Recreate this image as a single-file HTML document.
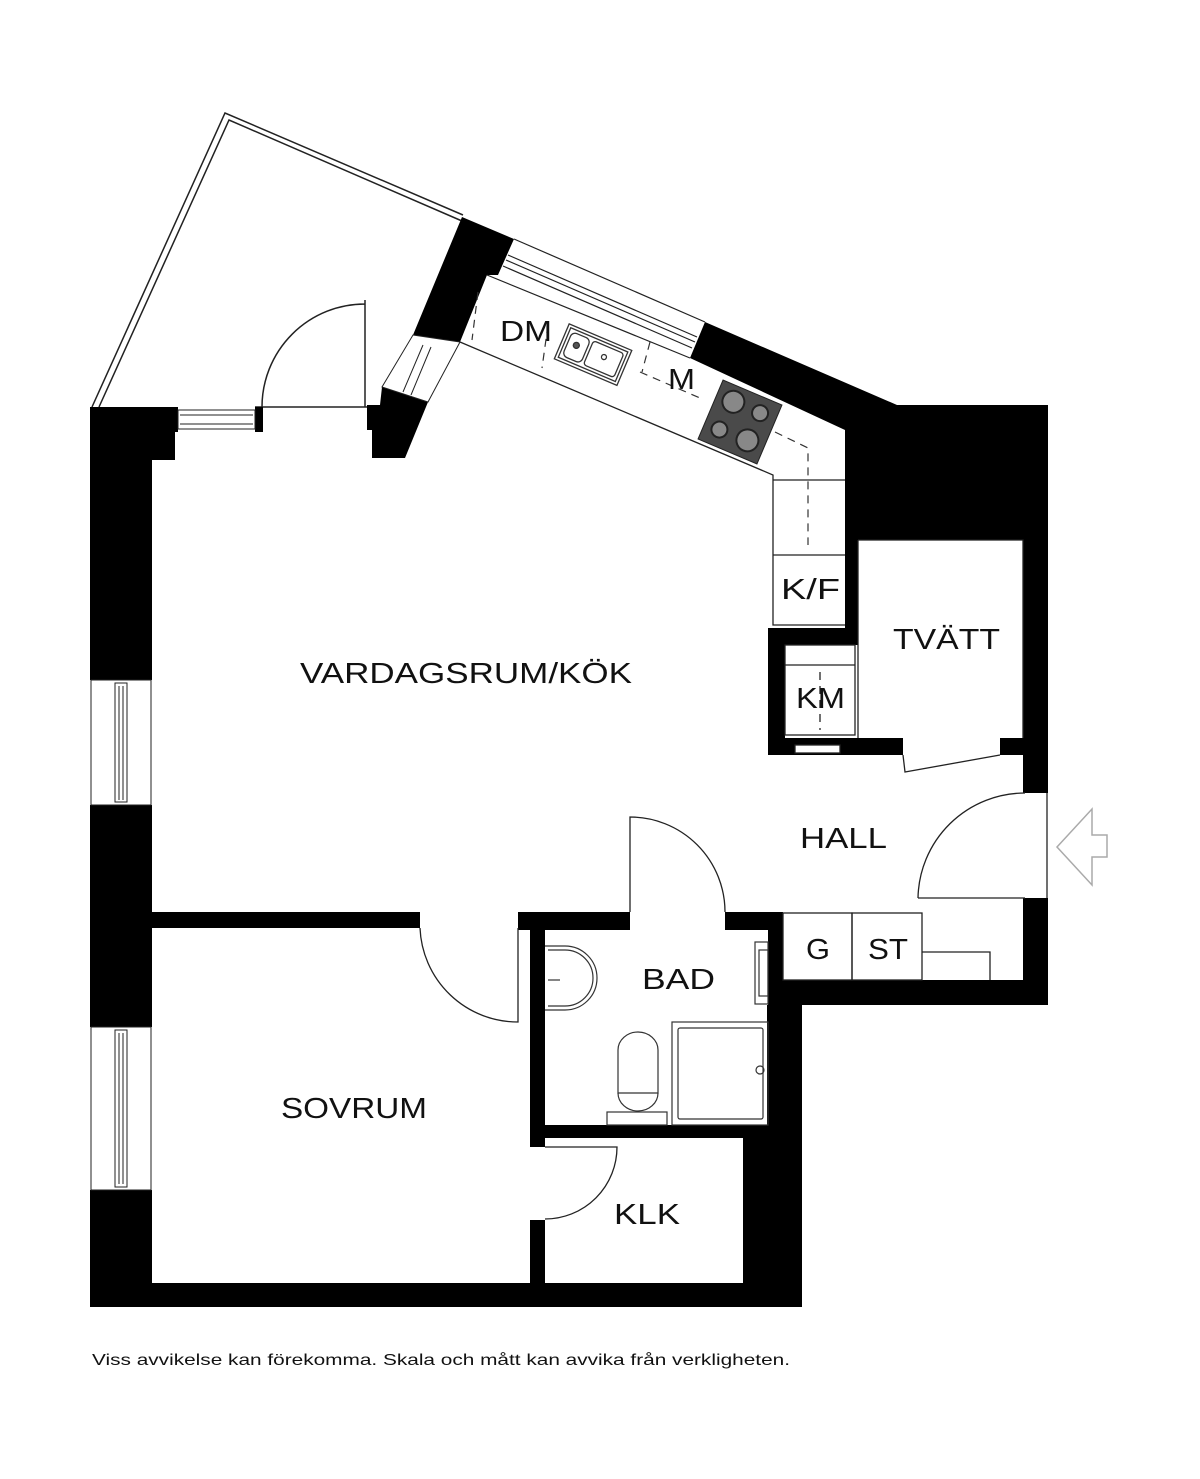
<!DOCTYPE html>
<html><head><meta charset="utf-8"><style>
html,body{margin:0;padding:0;background:#fff;}
svg{display:block;}
text{font-family:"Liberation Sans",sans-serif;fill:#111;}
</style></head><body>
<svg width="1200" height="1479" viewBox="0 0 1200 1479" xmlns="http://www.w3.org/2000/svg">
<g fill="none" stroke="#222" stroke-width="1.5">
<polyline points="92,407 225,113 463,215"/>
<polyline points="99,407 229,120 462,221"/>
</g>
<path d="M365,300 L365,407 M262,407 A103,103 0 0 1 365,304" fill="none" stroke="#222" stroke-width="1.5"/>
<line x1="255" y1="407" x2="372" y2="407" stroke="#222" stroke-width="1.5"/>

<g fill="#000">
<rect x="90" y="407" width="62" height="273"/>
<rect x="90" y="805" width="62" height="222"/>
<rect x="90" y="1190" width="62" height="117"/>
<rect x="90" y="407" width="88" height="25"/>
<rect x="152" y="432" width="23" height="28"/>
<rect x="255" y="407" width="8" height="25"/>
<polygon points="382,387 428,402 405,458 372,458 372,430 367,430 367,405 380,405"/>
<polygon points="462,217 514,239 498,275 487,275 460,342 413,335"/>
<polygon points="705,322 897,405 1048,405 1048,540 858,540 858,628 845,628 845,430 690,358"/>
<rect x="1023" y="540" width="25" height="253"/>
<rect x="1023" y="898" width="25" height="107"/>
<rect x="783" y="980" width="265" height="25"/>
<rect x="768" y="628" width="90" height="17"/>
<rect x="768" y="628" width="17" height="127"/>
<rect x="768" y="738" width="135" height="17"/>
<rect x="1000" y="738" width="25" height="17"/>
<rect x="152" y="912" width="268" height="16"/>
<rect x="518" y="912" width="112" height="18"/>
<rect x="725" y="912" width="58" height="18"/>
<rect x="530" y="912" width="15" height="235"/>
<rect x="530" y="1220" width="15" height="70"/>
<rect x="768" y="912" width="15" height="93"/>
<rect x="767" y="1005" width="35" height="302"/>
<rect x="530" y="1125" width="240" height="13"/>
<rect x="743" y="1125" width="59" height="182"/>
<rect x="90" y="1283" width="712" height="24"/>
</g>
<g fill="#fff" stroke="#222" stroke-width="1">
<rect x="178" y="410" width="77" height="19" fill="none"/>
<line x1="180" y1="415" x2="253" y2="415"/>
<line x1="180" y1="424" x2="253" y2="424"/>
</g>
<g fill="none" stroke="#222" stroke-width="1">
<polygon points="413,335 460,342 428,402 382,387"/>
<line x1="423" y1="345" x2="403" y2="392"/>
<line x1="431" y1="347" x2="411" y2="395"/>
</g>
<g fill="none" stroke="#222" stroke-width="1.2">
<line x1="514" y1="239" x2="705" y2="322"/>
<line x1="508" y1="255" x2="697" y2="337"/>
<line x1="506" y1="260" x2="695" y2="342"/>
<line x1="503" y1="266" x2="692" y2="348"/>
<line x1="487" y1="275" x2="690" y2="358"/>
</g>
<g fill="none" stroke="#222" stroke-width="1.3">
<polyline points="460,342 773,475 773,625 845,625"/>
<line x1="773" y1="480" x2="845" y2="480"/>
<line x1="773" y1="555" x2="845" y2="555"/>
</g>
<g fill="none" stroke="#333" stroke-width="1.2" stroke-dasharray="8,6">
<line x1="478" y1="292" x2="472" y2="340"/>
<line x1="548" y1="325" x2="542" y2="368"/>
<polyline points="640,372 700,398"/>
<line x1="650" y1="342" x2="642" y2="372"/>
<polyline points="775,432 808,448 808,545"/>
</g>
<g fill="none" stroke="#333" stroke-width="1.3" transform="rotate(23 592 352)">
<rect x="560" y="335" width="68" height="38"/>
<rect x="563" y="338" width="62" height="32"/>
<rect x="566" y="341" width="20" height="26" rx="5"/>
<rect x="589" y="341" width="33" height="26" rx="3"/>
<circle cx="575" cy="352" r="3" fill="#555"/>
<circle cx="605" cy="352" r="2.5"/>
</g>
<g transform="rotate(23 740 422)">
<rect x="708" y="390" width="64" height="64" fill="#4a4a4a" stroke="#222"/>
<circle cx="726" cy="406" r="11" fill="#888" stroke="#222" stroke-width="2"/>
<circle cx="755" cy="406" r="8" fill="#888" stroke="#222" stroke-width="2"/>
<circle cx="724" cy="437" r="8" fill="#888" stroke="#222" stroke-width="2"/>
<circle cx="754" cy="436" r="11" fill="#888" stroke="#222" stroke-width="2"/>
</g>
<g fill="none" stroke="#222" stroke-width="1">
<rect x="91" y="680" width="60" height="125"/>
<rect x="115" y="683" width="12" height="119"/>
<line x1="119" y1="686" x2="119" y2="800"/>
<line x1="123" y1="686" x2="123" y2="800"/>
<rect x="91" y="1027" width="60" height="163"/>
<rect x="115" y="1030" width="12" height="157"/>
<line x1="119" y1="1033" x2="119" y2="1184"/>
<line x1="123" y1="1033" x2="123" y2="1184"/>
</g>
<g fill="none" stroke="#222" stroke-width="1.3">
<polyline points="858,540 1023,540 1023,738"/>
<line x1="858" y1="540" x2="858" y2="738"/>
<rect x="785" y="645" width="70" height="90"/>
<line x1="785" y1="665" x2="855" y2="665"/>
<line x1="820" y1="672" x2="820" y2="730" stroke-dasharray="8,6"/>
<rect x="795" y="745" width="45" height="8" fill="#fff"/>
<polyline points="903,755 905,772 1000,755"/>
</g>
<g fill="none" stroke="#222" stroke-width="1.3">
<line x1="1047" y1="793" x2="1047" y2="898"/>
<path d="M918,898 L1025,898 M918,898 A107,107 0 0 1 1025,793"/>
<path d="M630,912 L630,817 A95,95 0 0 1 725,912"/>
<path d="M518,928 L518,1022 A98,98 0 0 1 420,928"/>
<path d="M545,1147 L617,1147 A72,72 0 0 1 545,1219"/>
<rect x="783" y="913" width="69" height="67"/>
<rect x="852" y="913" width="70" height="67"/>
<polyline points="922,952 990,952 990,980"/>
</g>
<g fill="none" stroke="#333" stroke-width="1.2">
<path d="M545,946 L565,946 A32,32 0 0 1 565,1010 L545,1010"/>
<path d="M548,950 L565,950 A28,28 0 0 1 565,1006 L548,1006"/>
<line x1="548" y1="980" x2="560" y2="980"/>
<rect x="755" y="942" width="13" height="62"/>
<rect x="759" y="950" width="9" height="46"/>
<rect x="672" y="1022" width="96" height="103"/>
<rect x="678" y="1028" width="85" height="91" rx="2"/>
<rect x="607" y="1112" width="60" height="13"/>
<path d="M618,1093 L618,1050 A20,18 0 0 1 658,1050 L658,1093 Z"/>
<path d="M618,1093 A20,18 0 0 0 658,1093"/>
<circle cx="760" cy="1070" r="4"/>
</g>
<polygon points="1057,847 1092,809 1092,835 1107,835 1107,857 1092,857 1092,885" fill="none" stroke="#aaa" stroke-width="1.5"/>
<g font-size="29" lengthAdjust="spacingAndGlyphs">
<text x="300" y="683" textLength="332" lengthAdjust="spacingAndGlyphs">VARDAGSRUM/KÖK</text>
<text x="893" y="649" textLength="107" lengthAdjust="spacingAndGlyphs">TVÄTT</text>
<text x="800" y="848" textLength="87" lengthAdjust="spacingAndGlyphs">HALL</text>
<text x="642" y="989" textLength="73" lengthAdjust="spacingAndGlyphs">BAD</text>
<text x="806" y="959" textLength="24" lengthAdjust="spacingAndGlyphs">G</text>
<text x="868" y="959" textLength="40" lengthAdjust="spacingAndGlyphs">ST</text>
<text x="281" y="1118" textLength="146" lengthAdjust="spacingAndGlyphs">SOVRUM</text>
<text x="614" y="1224" textLength="66" lengthAdjust="spacingAndGlyphs">KLK</text>
<text x="796" y="708" textLength="49" lengthAdjust="spacingAndGlyphs">KM</text>
<text x="781" y="599" textLength="59" lengthAdjust="spacingAndGlyphs">K/F</text>
<text x="500" y="341" textLength="52" lengthAdjust="spacingAndGlyphs">DM</text>
<text x="668" y="389" textLength="27" lengthAdjust="spacingAndGlyphs">M</text>
</g>
<text x="92" y="1365" font-size="16" textLength="698" lengthAdjust="spacingAndGlyphs">Viss avvikelse kan förekomma. Skala och mått kan avvika från verkligheten.</text>
</svg>
</body></html>
